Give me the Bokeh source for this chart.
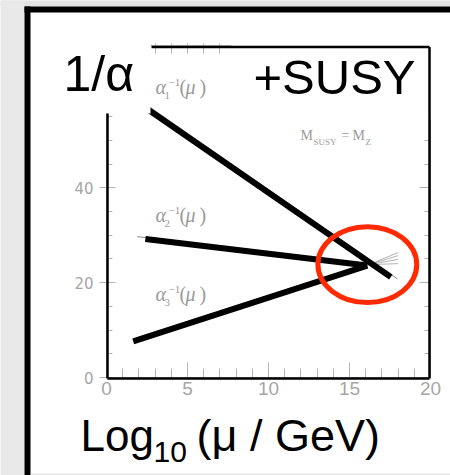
from bokeh.plotting import figure
from bokeh.models import Range1d, LinearAxis, SingleIntervalTicker
from bokeh.core.properties import value
from bokeh.embed import file_html
from bokeh.resources import INLINE

# ---- running inverse couplings (MSSM, M_SUSY = M_Z) ----
couplings = ["alpha1", "alpha2", "alpha3"]
log_mu_start = [1.8, 2.4, 1.65]
inv_alpha_start = [58.3, 29.2, 7.6]
log_mu_end = [17.55, 16.1, 16.1]
inv_alpha_end = [21.2, 23.6, 23.6]

# thin reference curves underneath the thick ones
thin_mu_start = [2.0, 1.9, 1.8]
thin_alpha_start = [58.6, 29.7, 8.3]
thin_mu_end = [17.95, 16.1, 16.1]
thin_alpha_end = [20.8, 24.0, 24.0]

# spread of the curves beyond the unification point
spread_mu_start = 16.2
spread_alpha_start = 23.8
spread_mu_end = 18.0
spread_alpha_end = [26.35, 25.7, 24.9, 24.0]

# unification point
unif_mu = 16.1
unif_alpha = 23.8

x_ticks_every = 5
y_ticks_every = 20

W, H = 450, 475
FX0, FX1, FY0, FY1 = 106, 430, 45, 377   # frame box in pixels (left, right, top, bottom)
XMAX, YMAX = 20, 70
SX = (FX1 - FX0) / XMAX
SY = (FY1 - FY0) / YMAX


def dx(px):
    return (px - FX0) / SX


def dy(py):
    return (FY1 - py) / SY


p = figure(width=W, height=H, x_range=Range1d(0, XMAX), y_range=Range1d(0, YMAX),
           output_backend="svg", toolbar_location=None,
           min_border_left=FX0, min_border_right=W - FX1,
           min_border_top=FY0, min_border_bottom=H - FY1,
           background_fill_color="white", border_fill_color="white",
           outline_line_color=None)
p.xgrid.visible = False
p.ygrid.visible = False

TICK = "#b4b4b4"
LAB = "#a6a6a6"

xa = p.xaxis[0]
xa.ticker = SingleIntervalTicker(interval=x_ticks_every, num_minor_ticks=5)
xa.major_tick_in, xa.major_tick_out = 15, 0
xa.minor_tick_in, xa.minor_tick_out = 9, 0
xa.major_tick_line_color = TICK
xa.minor_tick_line_color = TICK
xa.axis_line_color = TICK
xa.major_label_text_font = "Liberation Sans"
xa.major_label_text_font_size = "19px"
xa.major_label_text_color = LAB
xa.major_label_standoff = 4

ya = p.yaxis[0]
ya.ticker = SingleIntervalTicker(interval=y_ticks_every, num_minor_ticks=4)
ya.major_tick_in, ya.major_tick_out = 9, 7
ya.minor_tick_in, ya.minor_tick_out = 6, 0
ya.major_tick_line_color = TICK
ya.minor_tick_line_color = TICK
ya.axis_line_color = TICK
ya.major_label_text_font = "DejaVu Sans"
ya.major_label_text_font_size = "15px"
ya.major_label_text_color = LAB
ya.major_label_standoff = 6

ra = LinearAxis(ticker=SingleIntervalTicker(interval=y_ticks_every, num_minor_ticks=4),
                major_tick_in=11, major_tick_out=0, minor_tick_in=6, minor_tick_out=0,
                major_tick_line_color=TICK, minor_tick_line_color=TICK, axis_line_color=TICK,
                major_label_text_color=None, major_label_standoff=0)
p.add_layout(ra, "right")

ta = LinearAxis(ticker=SingleIntervalTicker(interval=x_ticks_every, num_minor_ticks=5),
                major_tick_in=8, major_tick_out=2, minor_tick_in=8, minor_tick_out=2,
                major_tick_line_color=TICK, minor_tick_line_color=TICK, axis_line_color=TICK,
                major_label_text_color=None, major_label_standoff=0)
p.add_layout(ta, "above")

# thin gray curves
p.segment(x0=thin_mu_start, y0=thin_alpha_start, x1=thin_mu_end, y1=thin_alpha_end,
          line_color="#8c8c8c", line_width=1)
p.segment(x0=[spread_mu_start] * len(spread_alpha_end), y0=[spread_alpha_start] * len(spread_alpha_end),
          x1=[spread_mu_end] * len(spread_alpha_end), y1=spread_alpha_end,
          line_color="#a0a0a0", line_width=0.8)

# thick running lines
p.segment(x0=log_mu_start, y0=inv_alpha_start, x1=log_mu_end, y1=inv_alpha_end,
          line_color="black", line_width=6, line_cap="butt")

# circle around the unification point
p.ellipse(x=[unif_mu], y=[unif_alpha], width=6.1, height=16.0,
          fill_color=None, line_color="#ff2a00", line_width=5)

# ---- page decoration (drawn above everything) ----
def box(l, r, t, b, color):
    p.quad(left=[dx(l)], right=[dx(r)], top=[dy(t)], bottom=[dy(b)],
           fill_color=color, line_color=None, level="overlay")


box(30, 150, 12, 113, "white")      # panel behind "1/α"
box(231, 436, 12, 119, "white")     # panel behind "+SUSY"
box(0, W, 0, 6, "#e3e3e3")
box(0, 24, 0, H, "#e9e9e9")
box(30, W, 473, H, "#e6e6e6")
box(24, 30, 6, H, "black")
box(24, W, 6, 12, "black")

# black plot frame
p.multi_line(xs=[[dx(151), dx(429)], [dx(429), dx(429)], [dx(107), dx(429)], [dx(107), dx(107)]],
             ys=[[dy(46.5), dy(46.5)], [dy(46.5), dy(378)], [dy(378), dy(378)], [dy(113), dy(378)]],
             line_color="black", line_width=2.5, level="overlay")

BASE_SHIFT = 0.36   # svg text sits this many em below the requested baseline


def txt(px, py, s, size, font="Liberation Sans", color="black", style="normal"):
    py = py - BASE_SHIFT * size
    p.text(x=[dx(px)], y=[dy(py)], text=[s], text_font=value(font), text_font_size=f"{size}px",
           text_color=color, text_font_style=style, text_align="left",
           text_baseline="alphabetic", level="overlay")


txt(63, 91, "1/α", 50)
txt(253, 94, "+SUSY", 49)
txt(80, 451, "Log", 44)
txt(153, 462, "10", 30)
txt(196, 451, "(μ / GeV)", 45)

GRAY = "#9a9a9a"
SERIF = "Liberation Serif"


def alpha_label(px, base, idx):
    txt(px, base, "α", 20, SERIF, GRAY, "italic")
    txt(px + 9, base + 5, idx, 11, SERIF, GRAY)
    txt(px + 13, base - 8, "−1", 11, SERIF, GRAY)
    txt(px + 24, base, "(", 20, SERIF, GRAY)
    txt(px + 30, base, "μ", 20, SERIF, GRAY, "italic")
    txt(px + 44, base, ")", 20, SERIF, GRAY)


alpha_label(155, 94, "1")
alpha_label(155, 222, "2")
alpha_label(155, 301, "3")

txt(300, 140, "M", 14, SERIF, GRAY)
txt(313, 145, "SUSY", 9, SERIF, GRAY)
txt(341, 140, "=", 14, SERIF, GRAY)
txt(352, 140, "M", 14, SERIF, GRAY)
txt(365, 145, "Z", 9, SERIF, GRAY)

open("out.html", "w").write(file_html(p, INLINE))
